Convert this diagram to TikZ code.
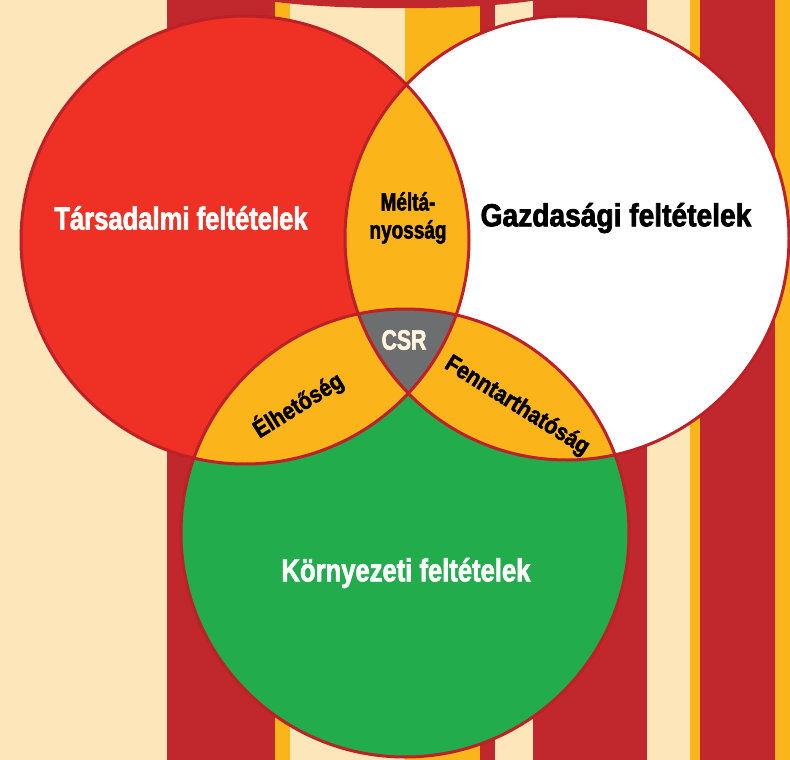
\documentclass[tikz,border=0pt]{standalone}
\usepackage{fontspec}
\newfontfamily\cf{Liberation Sans}[FakeStretch=0.8, FakeBold=2]
\newfontfamily\cfn{Liberation Sans}[FakeStretch=0.76, FakeBold=2]
\newfontfamily\cfm{Liberation Sans}[FakeStretch=0.88, FakeBold=2]
\definecolor{cream}{HTML}{FDE6BA}
\definecolor{stripered}{HTML}{C1282D}
\definecolor{stripey}{HTML}{FAB51B}
\definecolor{circred}{HTML}{EE3124}
\definecolor{circgreen}{HTML}{22AC4B}
\definecolor{lens}{HTML}{FBB41A}
\definecolor{csrgray}{HTML}{6D6E70}
\definecolor{outline}{HTML}{BD2027}
\definecolor{csrtext}{HTML}{FFF5DC}
\tikzset{
  bigtxt/.style={font=\cf\bfseries\fontsize{32}{32}\selectfont, inner sep=0pt},
  lenstxt/.style={font=\cfn\bfseries\fontsize{25}{28}\selectfont, inner sep=0pt, align=center},
  slanttxt/.style={font=\cfm\bfseries\fontsize{24}{24}\selectfont, inner sep=0pt},
  ring/.style={draw=outline, line width=3pt},
}
\begin{document}
\begin{tikzpicture}[x=1pt,y=-1pt]
\useasboundingbox (0,0) rectangle (790,760);
% background stripes
\fill[cream] (0,0) rectangle (790,760);
\fill[stripered] (167,0) rectangle (275,760);
\fill[stripey] (275,0) rectangle (290,760);
\fill[stripey] (405,0) rectangle (480,760);
\fill[stripered] (480,0) rectangle (495,760);
\fill[stripered] (533,0) rectangle (647,760);
\fill[stripey] (690,0) rectangle (700,760);
\fill[stripered] (700,0) rectangle (775,760);
\fill[stripey] (775,0) rectangle (790,760);
\fill[stripered] (262,0) .. controls (330,11) and (470,11) .. (538,0) -- cycle;
% circles
\coordinate (R) at (245,240);
\coordinate (W) at (567,238);
\coordinate (G) at (405,533);
\fill[circred] (R) circle[radius=224pt];
\fill[white] (W) circle[radius=222pt];
\fill[circgreen] (G) circle[radius=224pt];
\begin{scope}
  \clip (R) circle[radius=224pt];
  \fill[lens] (W) circle[radius=222pt];
  \fill[lens] (G) circle[radius=224pt];
\end{scope}
\begin{scope}
  \clip (W) circle[radius=222pt];
  \fill[lens] (G) circle[radius=224pt];
\end{scope}
\begin{scope}
  \clip (R) circle[radius=224pt];
  \clip (W) circle[radius=222pt];
  \fill[csrgray] (G) circle[radius=224pt];
\end{scope}
\draw[ring] (R) circle[radius=224pt];
\draw[ring] (W) circle[radius=222pt];
\draw[ring] (G) circle[radius=224pt];
% labels
\node[bigtxt, text=white] (tars) at (181,218) {Társadalmi feltételek};
\node[bigtxt, text=black] (gazd) at (616,218) {\scalebox{1.1}[1]{Gazdasági feltételek}};
\node[bigtxt, text=white] (korny) at (406,573) {Környezeti feltételek};
\node[lenstxt, text=black] (melt) at (408,218) {Méltá-\\nyosság};
\node[lenstxt, text=csrtext, font=\cfn\bfseries\fontsize{28}{28}\selectfont] (csr) at (404,340) {CSR};
\node[slanttxt, text=black, rotate=32] (elh) at (298,405) {Élhetőség};
\node[slanttxt, text=black, rotate=-32] (fenn) at (517,406) {Fenntarthatóság};
\end{tikzpicture}
\end{document}
